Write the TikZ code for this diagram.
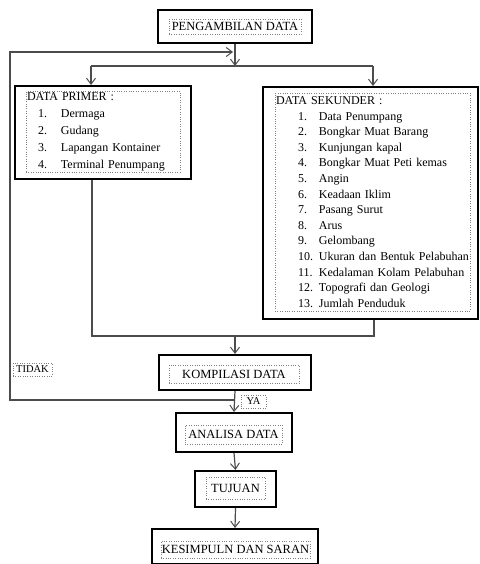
\documentclass[tikz,border=0pt]{standalone}
\usepackage{fontspec}
\setmainfont{Liberation Serif}
\usepackage{tikz}
\usetikzlibrary{arrows.meta}

\tikzset{
  outerbox/.style={draw=black, line width=2pt, inner sep=0pt},
  textbox/.style={draw=gray, dotted, inner sep=1pt, font=\fontsize{12.5}{14}\selectfont},
  labelbox/.style={draw=gray, dotted, inner sep=1pt, font=\fontsize{10.5}{12}\selectfont},
  link/.style={draw=black!70, line width=1.2pt},
  arr/.style={link, -{Straight Barb[length=6pt,width=9pt,line width=1pt]}}
}
\newcommand{\numitem}[3]{\hspace*{#1}\makebox[#2][l]{#3}}

\begin{document}
\begin{tikzpicture}[x=1pt,y=-1pt]
          \useasboundingbox (0,0) rectangle (479,564);
          % pengambilan data
          \node[outerbox, minimum width=154pt, minimum height=33pt] (ambil) at (235,26.5) {};
          \node[textbox, minimum width=132pt, minimum height=15pt] (ambiltxt) at (ambil.center) {PENGAMBILAN DATA};
          % data primer
          \node[outerbox, minimum width=176pt, minimum height=93pt] (primer) at (103,132.5) {};
          \node[textbox, text width=152pt, minimum height=79pt, align=left, font=\fontsize{12}{17}\selectfont] (primertxt) at (103,131.5) {%
            DATA PRIMER :\\
            \numitem{11pt}{23pt}{1.}Dermaga\\
            \numitem{11pt}{23pt}{2.}Gudang\\
            \numitem{11pt}{23pt}{3.}Lapangan Kontainer\\
            \numitem{11pt}{23pt}{4.}Terminal Penumpang};
          % data sekunder
          \node[outerbox, minimum width=215pt, minimum height=232pt] (sekunder) at (370.5,203) {};
          \node[textbox, text width=193pt, minimum height=218pt, align=left, font=\fontsize{12}{15.6}\selectfont] (sekundertxt) at (372.5,202) {%
            DATA SEKUNDER :\\
            \numitem{22pt}{21pt}{1.}Data Penumpang\\
            \numitem{22pt}{21pt}{2.}Bongkar Muat Barang\\
            \numitem{22pt}{21pt}{3.}Kunjungan kapal\\
            \numitem{22pt}{21pt}{4.}Bongkar Muat Peti kemas\\
            \numitem{22pt}{21pt}{5.}Angin\\
            \numitem{22pt}{21pt}{6.}Keadaan Iklim\\
            \numitem{22pt}{21pt}{7.}Pasang Surut\\
            \numitem{22pt}{21pt}{8.}Arus\\
            \numitem{22pt}{21pt}{9.}Gelombang\\
            \numitem{22pt}{21pt}{10.}Ukuran dan Bentuk Pelabuhan\\
            \numitem{22pt}{21pt}{11.}Kedalaman Kolam Pelabuhan\\
            \numitem{22pt}{21pt}{12.}Topografi dan Geologi\\
            \numitem{22pt}{21pt}{13.}Jumlah Penduduk};
          % kompilasi data
          \node[outerbox, minimum width=152pt, minimum height=35pt] (kompilasi) at (235,372.5) {};
          \node[textbox, minimum width=130pt, minimum height=18pt] (kompilasitxt) at (234,374) {KOMPILASI DATA};
          % analisa data
          \node[outerbox, minimum width=116pt, minimum height=39pt] (analisa) at (234,432.5) {};
          \node[textbox, minimum width=97pt, minimum height=19pt] (analisatxt) at (233.5,434.5) {ANALISA DATA};
          % tujuan
          \node[outerbox, minimum width=81pt, minimum height=36pt] (tujuan) at (235.5,489) {};
          \node[textbox, minimum width=59pt, minimum height=22pt] (tujuantxt) at (235.5,488) {TUJUAN};
          % kesimpulan dan saran
          \node[outerbox, minimum width=166pt, minimum height=35pt] (simpul) at (235,546.5) {};
          \node[textbox, minimum width=145pt, minimum height=17pt] (simpultxt) at (235.5,549.5) {KESIMPULN DAN SARAN};
          % labels
          \node[labelbox, minimum width=39pt, minimum height=13pt] (tidak) at (32.5,369.5) {TIDAK};
          \node[labelbox, minimum width=25pt, minimum height=13pt] (ya) at (253.5,401.5) {YA};
          % split to the two data boxes
          \coordinate (split) at (235,66);
          \coordinate (splitL) at (91,66);
          \coordinate (splitR) at (373,66);
          \draw[arr] (ambil.south) -- (split);
          \draw[link] (splitL) -- (splitR);
          \draw[arr] (splitL) -- (splitL |- primer.north);
          \draw[arr] (splitR) -- (splitR |- sekunder.north);
          % join into kompilasi
          \coordinate (joinL) at (92,336);
          \coordinate (joinR) at (374,336);
          \coordinate (join) at (235,336);
          \draw[link] (joinL |- primer.south) -- (joinL) -- (joinR) -- (joinR |- sekunder.south);
          \draw[arr] (join) -- (kompilasi.north);
          % ya
          \draw[arr] (kompilasi.south) -- (analisa.north);
          % tidak, back to the top
          \coordinate (back) at (235,400);
          \coordinate (backL) at (10,400);
          \coordinate (backT) at (10,52);
          \coordinate (backend) at (233,52);
          \draw[arr] (back) -- (backL) -- (backT) -- (backend);
          % last steps
          \draw[arr] (analisa.south) -- (tujuan.north);
          \draw[arr] (tujuan.south) -- (simpul.north);
        \end{tikzpicture}
\end{document}
